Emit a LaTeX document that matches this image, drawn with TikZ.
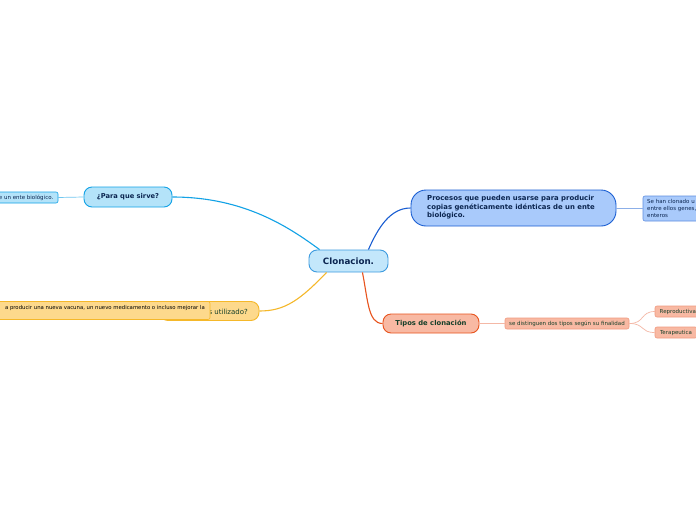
\documentclass[tikz,border=0pt]{standalone}
\usepackage{fontspec}
\setmainfont{DejaVu Sans}
\definecolor{cfill}{HTML}{C3E7FB}
\definecolor{cdraw}{HTML}{3D9BDF}
\definecolor{cyfill}{HTML}{B4E3F9}
\definecolor{cydraw}{HTML}{12A2E6}
\definecolor{blfill}{HTML}{A9CAFB}
\definecolor{bldraw}{HTML}{1A5ED2}
\definecolor{yefill}{HTML}{FDD98C}
\definecolor{yedraw}{HTML}{F5B82A}
\definecolor{orfill}{HTML}{F8B9A3}
\definecolor{ordraw}{HTML}{E8541E}
\definecolor{orleaf}{HTML}{F09A80}
\definecolor{navy}{HTML}{0B2550}
\definecolor{dgreen}{HTML}{17402A}
\tikzset{
  x=1pt,y=1pt,
  mainbox/.style={draw,line width=0.9pt,rounded corners=8pt,inner sep=0pt,align=center},
  leafbox/.style={draw,line width=0.6pt,rounded corners=2pt,inner sep=0pt},
  mainlink/.style={line width=1.1pt},
  leaflink/.style={line width=0.7pt},
  small/.style={font=\fontsize{5.5}{7}\selectfont},
}
\begin{document}
\begin{tikzpicture}
\useasboundingbox (0,0) rectangle (696,-520);
\clip (0,0) rectangle (696,-520);
\fill[white] (0,0) rectangle (696,-520);

% central
\node[mainbox,fill=cfill,draw=cdraw,minimum width=79pt,minimum height=22pt,text=navy,font=\fontsize{8.7}{10}\selectfont\bfseries] (c) at (348.5,-261) {Clonacion.};

% Para que sirve
\node[mainbox,fill=cyfill,draw=cydraw,minimum width=88pt,minimum height=20pt,text=navy,font=\fontsize{6.7}{8}\selectfont\bfseries] (sirve) at (128,-197) {¿Para que sirve?};
\draw[leafbox,fill=cyfill,draw=cydraw] (-20,-192) rectangle (58,-203);
\coordinate (sl) at (58,-197.5);
\node[anchor=east,inner sep=0pt,small,text=navy] (sleaf) at (53.5,-197.5) {e un ente biológico.};
\draw[leaflink,draw=cydraw!60] (sl) -- (sirve.west);
\draw[mainlink,draw=cydraw] ([xshift=11pt]c.north west) .. controls (290,-228) and (245,-197) .. (sirve.east);

% Para que es utilizado
\node[mainbox,fill=yefill,draw=yedraw,minimum width=99pt,minimum height=19pt] (util) at (209.5,-311) {};
\node[anchor=east,inner sep=0pt,font=\fontsize{7}{8}\selectfont,text=dgreen] (utext) at (248,-311.5) {s utilizado?};
\draw[leafbox,fill=yefill,draw=yedraw] (-20,-301.5) rectangle (210,-319.5);
\node[anchor=east,inner sep=0pt,font=\fontsize{5.35}{6}\selectfont,text=black] (uleaf) at (205,-308) {a producir una nueva vacuna, un nuevo medicamento o incluso mejorar la};
\draw[mainlink,draw=yedraw] ([xshift=18pt]c.south west) .. controls (300,-300) and (285,-311) .. (util.east);

% Procesos
\node[mainbox,rounded corners=15pt,fill=blfill,draw=bldraw,minimum width=205pt,minimum height=36pt] (proc) at (513.5,-208) {};
\node[anchor=north west,inner sep=0pt,align=left,font=\fontsize{6.9}{8.4}\selectfont\bfseries,text=navy] (ptext) at (427,-195.5) {Procesos que pueden usarse para producir\\copias genéticamente idénticas de un ente\\biológico.};
\draw[leafbox,fill=blfill,draw=bldraw!70] (643,-196) rectangle (720,-221);
\node[anchor=north west,inner sep=0pt,align=left,small,text=navy] (pleaf) at (647,-199) {Se han clonado u\\entre ellos genes,\\enteros};
\draw[leaflink,draw=bldraw!50] (proc.east) -- (643,-208);
\draw[mainlink,draw=bldraw] ([xshift=-20pt]c.north east) .. controls (378,-228) and (390,-208) .. (proc.west);

% Tipos
\node[mainbox,fill=orfill,draw=ordraw,minimum width=96pt,minimum height=19pt,text=dgreen,font=\fontsize{6.8}{8}\selectfont\bfseries] (tipos) at (431,-323.5) {Tipos de clonación};
\draw[mainlink,draw=ordraw] ([xshift=-26pt]c.south east) .. controls (368,-300) and (368,-323.5) .. (tipos.west);
\node[leafbox,fill=orfill,draw=orleaf,minimum width=124pt,minimum height=11pt,small,text=dgreen] (dist) at (567,-323.5) {se distinguen dos tipos según su finalidad};
\draw[leaflink,draw=orleaf!70] (tipos.east) -- (dist.west);
\draw[leafbox,fill=orfill,draw=orleaf] (655,-306) rectangle (720,-317);
\node[anchor=west,inner sep=0pt,small,text=dgreen] (rep) at (659.5,-311.5) {Reproductiva};
\node[leafbox,fill=orfill,draw=orleaf,minimum width=42pt,minimum height=11pt,small,text=dgreen] (ter) at (676,-332.5) {Terapeutica};
\draw[leaflink,draw=orleaf!70] (dist.east) .. controls (645,-323.5) and (640,-311.5) .. (655,-311.5);
\draw[leaflink,draw=orleaf!70] (dist.east) .. controls (645,-323.5) and (640,-332.5) .. (ter.west);
\end{tikzpicture}
\end{document}
